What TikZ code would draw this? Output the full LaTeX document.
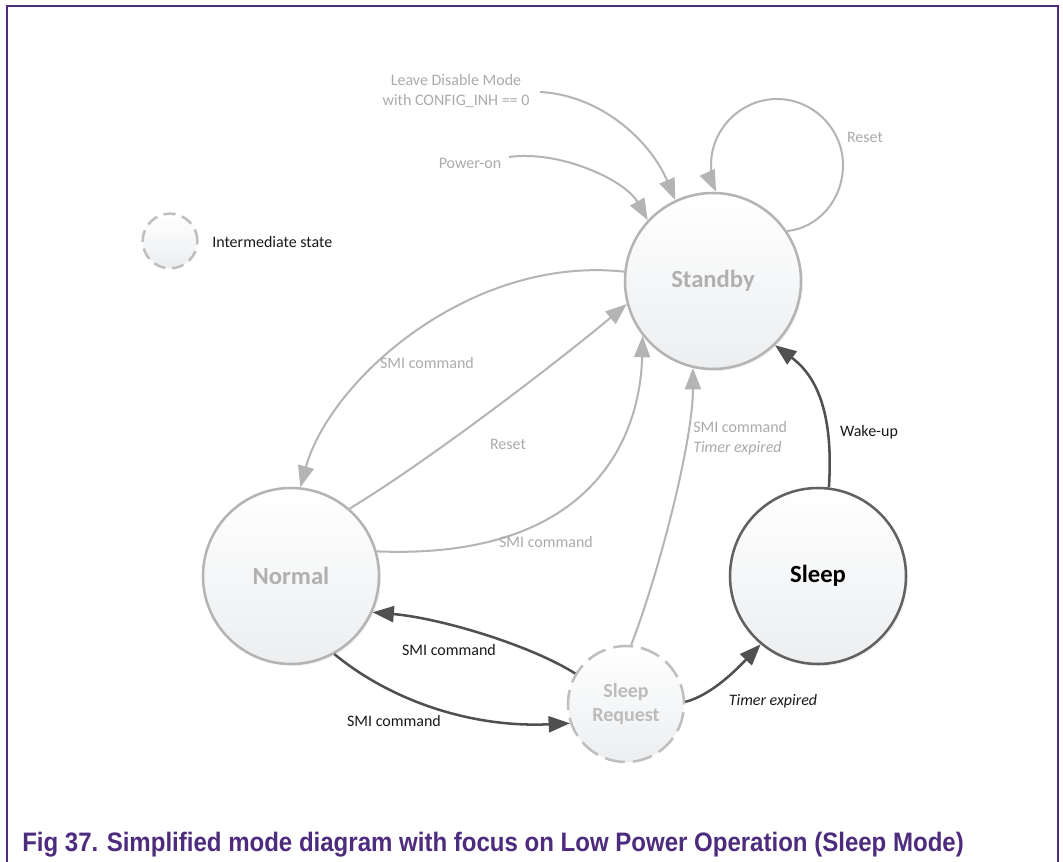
\documentclass[tikz,border=0pt]{standalone}
\usepackage{fontspec}
\setmainfont{Carlito}
\newfontfamily\capfont{Liberation Sans}
\usetikzlibrary{arrows.meta,shadows}
\definecolor{lgray}{HTML}{B4B4B4}
\definecolor{tgray}{HTML}{ABABAB}
\definecolor{sgray}{HTML}{B0B0B0}
\definecolor{dgray}{HTML}{505050}
\definecolor{fillbot}{HTML}{ECEEF0}
\definecolor{framec}{HTML}{4D2B7D}
\definecolor{txtblack}{HTML}{1A1A1A}
\begin{document}
\begin{tikzpicture}[x=0.75pt,y=-0.75pt,
  state/.style={circle, minimum size=132pt, inner sep=0pt, line width=1.9pt, draw=lgray,
    top color=white, bottom color=fillbot, text=sgray,
    font=\bfseries\fontsize{18.5}{22}\selectfont,
    drop shadow={opacity=0.10, shadow xshift=1.5pt, shadow yshift=-1.5pt}},
  interm/.style={circle, inner sep=0pt, line width=1.9pt, draw=lgray!85,
    top color=white, bottom color=fillbot, dash pattern=on 15pt off 6pt},
  lbl/.style={font=\fontsize{12}{15}\selectfont, text=tgray, inner sep=0pt},
  blbl/.style={lbl, text=txtblack},
  larr/.style={draw=lgray, line width=1.5pt, -{Triangle[length=16pt,width=12pt]}},
  darr/.style={draw=dgray, line width=1.9pt, -{Triangle[length=16pt,width=12pt]}}
]
\useasboundingbox (0,0) rectangle (1063,862);
\fill[white] (0,0) rectangle (1063,862);
% frame
\draw[framec, line width=1.2pt] (7,862) -- (7,6) -- (1058,6) -- (1058,862);

% states
\node[state] (standby) at (713,281) {Standby};
\node[state] (normal) at (291,576) {Normal};
\node[state, draw=dgray!90, text=black] (sleep) at (818,576) {Sleep};
\node[interm, minimum size=87pt, text=sgray!85, align=center,
  font=\bfseries\fontsize{15}{18}\selectfont] (sreq) at (626,704) {Sleep\\Request};

% legend
\node[interm, minimum size=41pt, dash pattern=on 9pt off 5pt] (legend) at (170,241) {};
\node[blbl, anchor=west] (legtext) at (212,242) {Intermediate state};

% external entries
\node[lbl, align=center, font=\fontsize{12}{15}\selectfont] (leavelbl) at (456,91) {Leave Disable Mode\\with CONFIG\_INH == 0};
\coordinate (ld) at (540,92);
\node[lbl] (powlbl) at (470,163) {Power-on};
\coordinate (po) at (509,157);
\draw[larr] (ld) .. controls (600,95) and (650,140) .. (standby.115);
\draw[larr] (po) .. controls (560,150) and (625,180) .. (standby.137);

% reset loop
\coordinate (loopr) at (843,165);
\coordinate (looptop) at (777,99);
\coordinate (loopl) at (711,165);
\draw[larr] (standby.34) .. controls (818,228) and (843,200) .. (loopr)
  .. controls (843,129) and (813,99) .. (looptop)
  .. controls (741,99) and (711,129) .. (loopl)
  .. controls (711,175) and (713,185) .. (standby.88);
\node[lbl] (resetloop) at (865,137) {Reset};

% standby <-> normal
\draw[larr] (standby.174) .. controls (470,255) and (330,380) .. (normal.84);
\node[lbl] (smi1) at (427,363) {SMI command};
\draw[larr] (normal.49) .. controls (430,460) and (560,360) .. (standby.195);
\node[lbl] (reset2) at (508,444) {Reset};
\draw[larr] (normal.16) .. controls (590,560) and (640,440) .. (standby.218);
\node[lbl] (smi2) at (546,542) {SMI command};

% sleep request -> standby
\draw[larr] (sreq.85) .. controls (660,570) and (693,440) .. (standby.257);
\node[lbl, anchor=west, align=left] (smi3) at (693,438) {SMI command\\\textit{Timer expired}};

% wake-up
\draw[darr] (sleep.83) .. controls (834,410) and (815,375) .. (standby.314);
\node[blbl] (wake) at (869,432) {Wake-up};

% normal <-> sleep request
\draw[darr] (sreq.149) .. controls (530,645) and (440,618) .. (normal.-24);
\node[blbl] (smi4) at (449,650) {SMI command};
\draw[darr] (normal.-61.5) .. controls (390,700) and (470,728) .. (sreq.199);
\node[blbl] (smi5) at (394,721) {SMI command};

% sleep request -> sleep
\draw[darr] (sreq.2) .. controls (712,695) and (738,668) .. (sleep.230);
\node[blbl] (timer) at (773,701) {\textit{Timer expired}};

% caption
\node[anchor=base west, inner sep=0pt, text=framec] (caption) at (22,851)
  {\resizebox{706pt}{14.5pt}{\capfont\bfseries Fig 37.\hspace{0.35em}Simplified mode diagram with focus on Low Power Operation (Sleep Mode)}};
\end{tikzpicture}
\end{document}
